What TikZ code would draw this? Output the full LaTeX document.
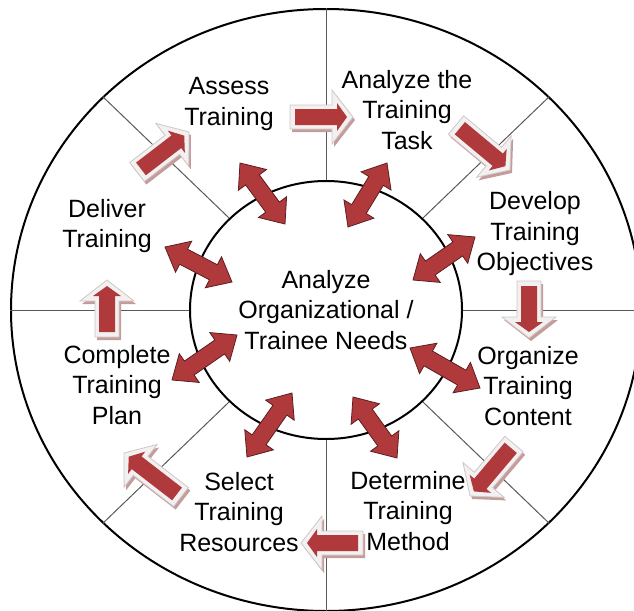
\documentclass[tikz,border=0pt]{standalone}
\usepackage{fontspec}
\setmainfont{Liberation Sans}
\usetikzlibrary{positioning, calc, shapes.geometric}

\definecolor{arrowred}{HTML}{B0393C}
\definecolor{arrowline}{HTML}{5C1F20}
\definecolor{bevel}{HTML}{F2F0F0}
\definecolor{bevelline}{HTML}{D2C6C6}
\definecolor{bevelshadow}{HTML}{C49C9C}

\tikzset{
  stage/.style={align=center, font=\fontsize{25}{30.5}\selectfont},
  hub/.style={draw, ellipse, line width=2pt, minimum width=272pt, minimum height=258pt,
    inner sep=0pt, align=center, font=\fontsize{25}{30.5}\selectfont},
  rim/.style={draw, ellipse, line width=2pt, minimum width=630pt, minimum height=602pt},
  spoke/.style={draw=black!65, line width=1pt},
  twoway/.style={fill=arrowred, draw=arrowline, line width=0.8pt, line join=miter},
  bevelarrow/.style={fill=bevel, draw=bevelline, line width=0.8pt},
  bevelshade/.style={fill=bevelshadow},
  oneway/.style={fill=arrowred}
}

% block arrow with a head at both ends
\newcommand\twowayarrow[2]{%
  \coordinate (hA) at ($(#1)!21pt!(#2)$);
  \coordinate (hB) at ($(#2)!21pt!(#1)$);
  \path[twoway] (#1) -- ($(hA)!17.5pt!90:(#2)$) -- ($(hA)!8.5pt!90:(#2)$)
    -- ($(hB)!8.5pt!-90:(#1)$) -- ($(hB)!17.5pt!-90:(#1)$) -- (#2)
    -- ($(hB)!17.5pt!90:(#1)$) -- ($(hB)!8.5pt!90:(#1)$)
    -- ($(hA)!8.5pt!-90:(#2)$) -- ($(hA)!17.5pt!-90:(#2)$) -- cycle;}

% #1 style, #2 tail, #3 tip, #4 half shaft, #5 half head, #6 head length
\newcommand\onewayarrow[6]{%
  \coordinate (hC) at ($(#3)!#6!(#2)$);
  \path[#1] ($(#2)!#4!90:(#3)$) -- ($(hC)!#4!90:(#3)$) -- ($(hC)!#5!90:(#3)$) -- (#3)
    -- ($(hC)!#5!-90:(#3)$) -- ($(hC)!#4!-90:(#3)$) -- ($(#2)!#4!-90:(#3)$) -- cycle;}

% bevelled arrow of the cycle
\newcommand\cyclearrow[2]{%
  \onewayarrow{bevelshade, transform canvas={shift={(2pt,-3pt)}}}{#1}{#2}{12pt}{27pt}{21pt}
  \onewayarrow{bevelarrow}{#1}{#2}{12pt}{27pt}{21pt}
  \coordinate (rA) at ($(#1)!5pt!(#2)$);
  \coordinate (rB) at ($(#2)!6pt!(#1)$);
  \onewayarrow{oneway}{rA}{rB}{8pt}{14pt}{10pt}}

\begin{document}
\begin{tikzpicture}[x=1pt, y=-1pt]
  \useasboundingbox (0,0) rectangle (634,610);
  \clip (0,0) rectangle (634,610);

  \node[rim] (rim) at (326,310) {};
  \node[hub] (hub) at (326,310) {Analyze\\Organizational /\\Trainee Needs};

  \draw[spoke] (hub.north) -- (rim.north);
  \draw[spoke] (hub.north east) -- (rim.north east);
  \draw[spoke] (hub.east) -- (rim.east);
  \draw[spoke] (hub.south east) -- (rim.south east);
  \draw[spoke] (hub.south) -- (rim.south);
  \draw[spoke] (hub.south west) -- (rim.south west);
  \draw[spoke] (hub.west) -- (rim.west);
  \draw[spoke] (hub.north west) -- (rim.north west);

  \node[stage] (assess) at (229,104) {Assess\\Training};
  \node[stage] (task) at (407,110) {Analyze the\\Training\\Task};
  \node[stage] (objectives) at (535,234) {Develop\\Training\\Objectives};
  \node[stage] (content) at (528,386) {Organize\\Training\\Content};
  \node[stage] (method) at (408,511) {Determine\\Training\\Method};
  \node[stage] (resources) at (239,512) {Select\\Training\\Resources};
  \node[stage] (plan) at (117,385) {Complete\\Training\\Plan};
  \node[stage] (deliver) at (107,226) {Deliver\\Training};

  % arrows between hub and stages
  \coordinate (assess-in) at (285,224);     \coordinate (assess-out) at (240,163);
  \coordinate (task-in) at (348,227);       \coordinate (task-out) at (387,163);
  \coordinate (objectives-in) at (413,280); \coordinate (objectives-out) at (475,237);
  \coordinate (content-in) at (410,348);    \coordinate (content-out) at (480,388);
  \coordinate (method-in) at (353,397);     \coordinate (method-out) at (397,458);
  \coordinate (resources-in) at (292,393);  \coordinate (resources-out) at (247,457);
  \coordinate (plan-in) at (237,335);       \coordinate (plan-out) at (172,380);
  \coordinate (deliver-in) at (232,282);    \coordinate (deliver-out) at (165,247);

  \twowayarrow{assess-in}{assess-out}
  \twowayarrow{task-in}{task-out}
  \twowayarrow{objectives-in}{objectives-out}
  \twowayarrow{content-in}{content-out}
  \twowayarrow{method-in}{method-out}
  \twowayarrow{resources-in}{resources-out}
  \twowayarrow{plan-in}{plan-out}
  \twowayarrow{deliver-in}{deliver-out}

  % the cycle
  \coordinate (cyc1-from) at (290,117); \coordinate (cyc1-to) at (353,117);
  \coordinate (cyc2-from) at (456,125); \coordinate (cyc2-to) at (510,170);
  \coordinate (cyc3-from) at (529,281); \coordinate (cyc3-to) at (529,338);
  \coordinate (cyc4-from) at (514,444); \coordinate (cyc4-to) at (470,496);
  \coordinate (cyc5-from) at (363,543); \coordinate (cyc5-to) at (301,543);
  \coordinate (cyc6-from) at (181,497); \coordinate (cyc6-to) at (124,453);
  \coordinate (cyc7-from) at (107,337); \coordinate (cyc7-to) at (107,280);
  \coordinate (cyc8-from) at (137,172); \coordinate (cyc8-to) at (189,132);

  \cyclearrow{cyc1-from}{cyc1-to}
  \cyclearrow{cyc2-from}{cyc2-to}
  \cyclearrow{cyc3-from}{cyc3-to}
  \cyclearrow{cyc4-from}{cyc4-to}
  \cyclearrow{cyc5-from}{cyc5-to}
  \cyclearrow{cyc6-from}{cyc6-to}
  \cyclearrow{cyc7-from}{cyc7-to}
  \cyclearrow{cyc8-from}{cyc8-to}
\end{tikzpicture}
\end{document}
